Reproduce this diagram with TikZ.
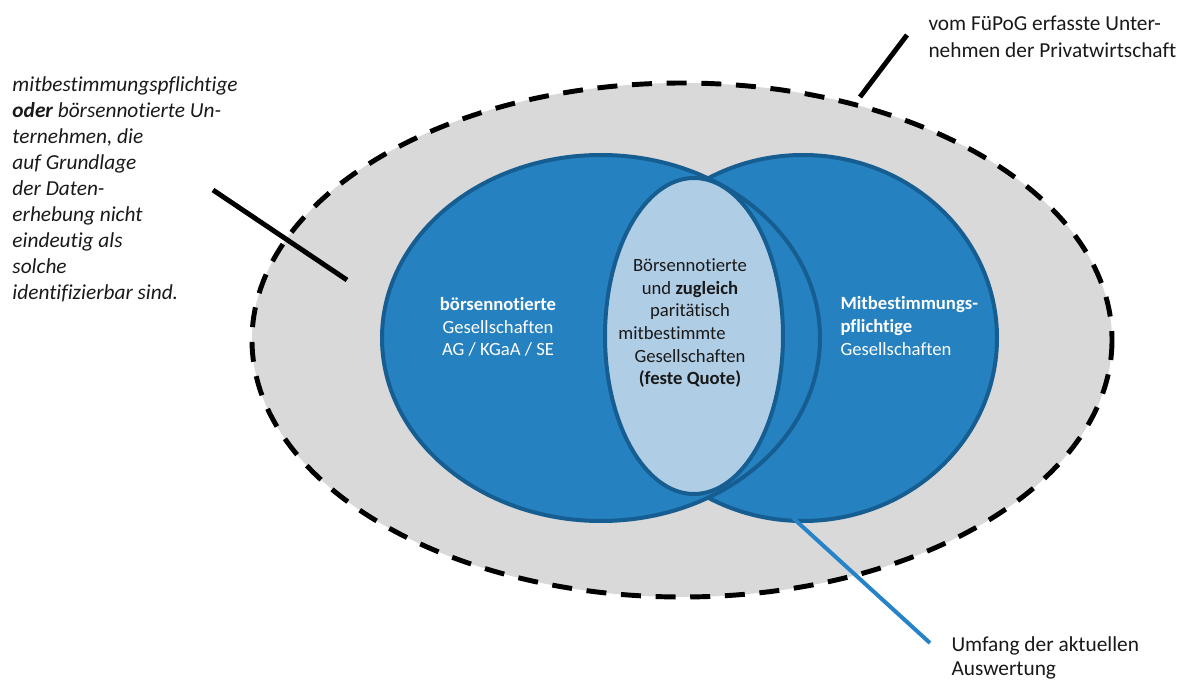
\documentclass[tikz,border=0pt]{standalone}
\usepackage{fontspec}
\setmainfont{Carlito}[Ligatures=NoCommon]

\definecolor{venngray}{RGB}{217,217,217}
\definecolor{vennblue}{RGB}{37,129,192}
\definecolor{vennedge}{RGB}{22,94,145}
\definecolor{vennlight}{RGB}{176,205,230}
\definecolor{callblue}{RGB}{38,131,200}
\definecolor{txtdark}{RGB}{25,25,25}

\tikzset{every picture/.style={line width=0.75pt}}
\tikzset{
  vennset/.style={draw=vennedge, fill=vennblue, line width=3pt},
  callout/.style={draw=black, line width=3.7pt},
  bigtext/.style={inner sep=0pt, text=txtdark, font=\fontsize{16}{19.5}\selectfont},
  settext/.style={inner sep=0pt, align=center, font=\fontsize{14}{17}\selectfont}
}

\begin{document}
\begin{tikzpicture}[x=0.75pt,y=0.75pt,yscale=-1,xscale=1]
\path [use as bounding box] (0,0) rectangle (1179,681);

%Shape: Ellipse (all firms)
\draw [fill=venngray, line width=3.7pt, dash pattern=on 15pt off 11pt] (682,340) ellipse [x radius=430, y radius=257];
%Shape: Ellipse (co-determined)
\draw [vennset] (803,338) ellipse [x radius=194, y radius=183];
%Shape: Ellipse (listed)
\draw [vennset] (601,338) ellipse [x radius=219, y radius=183];
%Shape: Ellipse (intersection)
\draw [draw=vennedge, fill=vennlight, line width=3pt] (694,336) ellipse [x radius=89, y radius=158];

%Callout ends
\coordinate (unclearA) at (213,190);
\coordinate (unclearB) at (347,280);
\coordinate (fuepogA) at (907,35);
\coordinate (fuepogB) at (860,97);
\coordinate (scopeA) at (793,518);
\coordinate (scopeB) at (930,643);

%Straight Lines
\draw [callout] (unclearA) -- (unclearB);
%Straight Lines
\draw [callout] (fuepogA) -- (fuepogB);
%Straight Lines
\draw [draw=callblue, line width=3pt] (scopeA) -- (scopeB);

% Text Node
\node [bigtext, anchor=west, align=left, font=\fontsize{16}{19.5}\selectfont\itshape] (unclear) at (12,189)
  {mitbestimmungspflichtige\\ \textbf{oder} börsennotierte Un-\\ ternehmen, die\\ auf Grundlage\\ der Daten-\\ erhebung nicht\\ eindeutig als\\ solche\\ identifizierbar sind.};
% Text Node
\node [bigtext, anchor=west, align=left, font=\fontsize{16}{20}\selectfont] (fuepog) at (928,37)
  {vom FüPoG erfasste Unter-\\ nehmen der Privatwirtschaft};
% Text Node
\node [bigtext, anchor=west, align=left, font=\fontsize{16}{18}\selectfont] (scope) at (951,658)
  {Umfang der aktuellen\\ Auswertung};
% Text Node
\node [settext, text=white] (listed) at (498,327)
  {\textbf{börsennotierte}\\ Gesellschaften\\ AG / KGaA / SE};
% Text Node
\node [settext, text=txtdark] (both) at (690,323)
  {Börsennotierte\\ und \textbf{zugleich}\\ paritätisch\\ mitbestimmte\rule{27pt}{0pt}\\ Gesellschaften\\ \textbf{(feste Quote)}};
% Text Node
\node [settext, text=white, anchor=west, align=left] (codet) at (840,326)
  {\textbf{Mitbestimmungs-}\\ \textbf{pflichtige}\\ Gesellschaften};

\end{tikzpicture}
\end{document}
